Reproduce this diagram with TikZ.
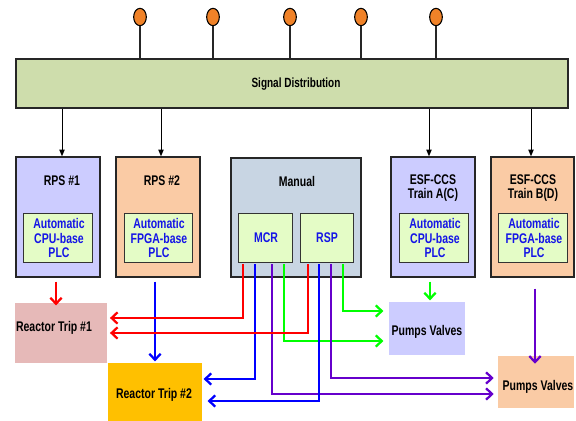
\documentclass[tikz,border=0pt]{standalone}
\usepackage{fontspec}
\setmainfont{Liberation Sans}[FakeStretch=0.75]
\usetikzlibrary{arrows.meta,fit,shapes.geometric}
\definecolor{sigc}{RGB}{206,221,172}
\definecolor{lilac}{RGB}{204,204,255}
\definecolor{peach}{RGB}{250,203,165}
\definecolor{manc}{RGB}{200,213,227}
\definecolor{innerc}{RGB}{228,252,198}
\definecolor{rt1c}{RGB}{230,185,184}
\definecolor{rt2c}{RGB}{255,192,0}
\definecolor{pinorange}{RGB}{240,130,40}
\definecolor{txtblue}{RGB}{20,20,230}
\definecolor{wred}{RGB}{255,0,0}
\definecolor{wblue}{RGB}{0,0,255}
\definecolor{wgreen}{RGB}{0,255,0}
\definecolor{wpurple}{RGB}{102,0,204}
\begin{document}
\begin{tikzpicture}[x=0.75pt,y=-0.75pt,
  outer/.style={draw=black!85,line width=1.1pt,inner sep=0pt},
  inbox/.style={draw=black!80,line width=0.6pt,fill=innerc,inner sep=0pt},
  intext/.style={inner sep=0pt,text=txtblue,font=\bfseries\fontsize{10.5}{11.2}\selectfont,align=center},
  ttl/.style={inner sep=0pt,font=\bfseries\fontsize{10.5}{10.5}\selectfont,align=center},
  lbl/.style={inner sep=0pt,font=\bfseries\fontsize{10.5}{11}\selectfont},
  bar/.style={draw=black!85,line width=1pt,fill=sigc,inner sep=0pt},
  plainbox/.style={inner sep=0pt},
  pinc/.style={ellipse,draw=black,line width=0.8pt,fill=pinorange,minimum width=9.5pt,minimum height=13pt,inner sep=0pt},
  stem/.style={line width=1.1pt,black!85},
  feed/.style={line width=0.75pt,black,-{Triangle[length=5pt,width=4pt]}},
  wire/.style={line width=1.7pt,-{Straight Barb[length=4.5pt,width=8.5pt]}},
]
\useasboundingbox (0,0) rectangle (576,421);

% signal distribution bar and pins
\node[bar,fit={(16,59)(568,108)}] (sig) {};
\node[lbl,font=\bfseries\fontsize{10}{10}\selectfont] (sigt) at (296,84) {Signal Distribution};
\foreach \x [count=\i] in {140,213,290,361,436} {
  \node[pinc] (p\i) at (\x,17) {};
  \draw[stem] (p\i.south) -- (p\i.south |- sig.north);
}

% processor boxes
\node[outer,fill=lilac,fit={(16,157)(100,277)}] (rps1) {};
\node[inbox,fit={(23,213)(92,262)}] (in1) {};
\node[intext] (in1t) at (59,238) {Automatic\\CPU-base\\PLC};
\node[ttl] (t1) at (62,181) {RPS \#1};

\node[outer,fill=peach,fit={(116,157)(200,277)}] (rps2) {};
\node[inbox,fit={(124,213)(192,262)}] (in2) {};
\node[intext] (in2t) at (159,238) {Automatic\\FPGA-base\\PLC};
\node[ttl] (t2) at (162,181) {RPS \#2};

\node[outer,fill=manc,fit={(231,158)(361,277)}] (man) {};
\node[inbox,fit={(238,213)(292,262)}] (mcr) {};
\node[intext] (mcrt) at (266,238) {MCR};
\node[inbox,fit={(300,213)(353,262)}] (rsp) {};
\node[intext] (rspt) at (327,238) {RSP};
\node[ttl] (t3) at (297,181) {Manual};

\node[outer,fill=lilac,fit={(391,157)(475,277)}] (esfa) {};
\node[inbox,fit={(399,213)(468,262)}] (in4) {};
\node[intext] (in4t) at (435,238) {Automatic\\CPU-base\\PLC};
\node[ttl] (t4) at (433,188) {ESF-CCS\\Train A(C)};

\node[outer,fill=peach,fit={(491,157)(574,277)}] (esfb) {};
\node[inbox,fit={(498,213)(567,262)}] (in5) {};
\node[intext] (in5t) at (534,238) {Automatic\\FPGA-base\\PLC};
\node[ttl] (t5) at (533,188) {ESF-CCS\\Train B(D)};

% feed arrows
\foreach \x/\b in {62/rps1,161/rps2,429/esfa,531/esfb} {
  \coordinate (f\b) at (\x,0);
  \draw[feed] (f\b |- sig.south) -- (f\b |- \b.north);
}

% output boxes
\node[plainbox,fill=rt1c,fit={(15,303)(107,363)}] (rt1) {};
\node[lbl] (rt1t) at (54,328) {Reactor Trip \#1};
\node[plainbox,fill=rt2c,fit={(108,363)(202,421)}] (rt2) {};
\node[lbl] (rt2t) at (154,395) {Reactor Trip \#2};
\node[plainbox,fill=lilac,fit={(389,302)(465,355)}] (pv1) {};
\node[lbl] (pv1t) at (427,332) {Pumps Valves};
\node[plainbox,fill=peach,fit={(498,356)(574,408)}] (pv2) {};
\node[lbl] (pv2t) at (538,387) {Pumps Valves};

% vertical automatic outputs
\coordinate (va) at (56,0);
\draw[wire,wred] (va |- rps1.south) ++(0,4) -- ([yshift=-2pt]va |- rt1.north);
\coordinate (vb) at (155,0);
\draw[wire,wblue] (vb |- rps2.south) ++(0,4) -- ([yshift=1pt]vb |- rt2.north);
\coordinate (vc) at (430,0);
\draw[wire,wgreen] (vc |- esfa.south) ++(0,4) -- ([yshift=1pt]vc |- pv1.north);
\coordinate (vd) at (535,0);
\draw[wire,wpurple] (vd |- esfb.south) ++(0,11) -- ([yshift=-6pt]vd |- pv2.north);

% manual wires from MCR
\coordinate (m1) at (243,318);
\coordinate (m2) at (255,379);
\coordinate (m3) at (272,394);
\coordinate (m4) at (284,341);
\draw[wire,wred] (m1 |- mcr.south) ++(0,2) |- ([xshift=2pt]rt1.east |- m1);
\draw[wire,wblue] (m2 |- mcr.south) ++(0,2) |- ([xshift=1pt]rt2.east |- m2);
\draw[wire,wpurple] (m3 |- mcr.south) ++(0,2) |- ([xshift=-3pt]pv2.west |- m3);
\draw[wire,wgreen] (m4 |- mcr.south) ++(0,2) |- ([xshift=-4pt]pv1.west |- m4);

% manual wires from RSP
\coordinate (r1) at (308,333);
\coordinate (r2) at (319,401);
\coordinate (r3) at (331,378);
\coordinate (r4) at (343,311);
\draw[wire,wred] (r1 |- rsp.south) ++(0,2) |- ([xshift=2pt]rt1.east |- r1);
\draw[wire,wblue] (r2 |- rsp.south) ++(0,2) |- ([xshift=4pt]rt2.east |- r2);
\draw[wire,wpurple] (r3 |- rsp.south) ++(0,2) |- ([xshift=-3pt]pv2.west |- r3);
\draw[wire,wgreen] (r4 |- rsp.south) ++(0,2) |- ([xshift=-4pt]pv1.west |- r4);
\end{tikzpicture}
\end{document}
